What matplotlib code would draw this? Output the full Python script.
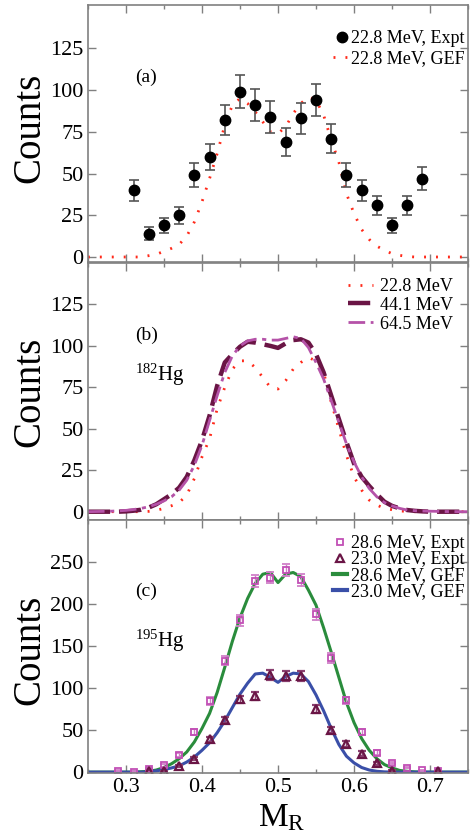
import numpy as np
import matplotlib
matplotlib.use("Agg")
import matplotlib.pyplot as plt
from matplotlib.lines import Line2D

plt.rcParams['font.family'] = ['Liberation Serif', 'DejaVu Serif']
plt.rcParams['mathtext.fontset'] = 'custom'
plt.rcParams['mathtext.rm'] = 'Liberation Serif'
plt.rcParams['mathtext.it'] = 'Liberation Serif:italic'

# ---------------- data ----------------
# Panel (a): experiment 22.8 MeV
mr_a = [0.31, 0.33, 0.35, 0.37, 0.39, 0.41, 0.43, 0.45, 0.47, 0.49,
        0.51, 0.53, 0.55, 0.57, 0.59, 0.61, 0.63, 0.65, 0.67, 0.69]
counts_a = [40, 14, 19, 25, 49, 60, 82, 99, 91, 84,
            69, 83, 94, 71, 49, 40, 31, 19, 31, 47]
err_a = [6.3, 3.9, 4.5, 5.1, 7.3, 7.7, 9.0, 10.0, 9.5, 9.5,
         8.4, 9.0, 9.8, 8.5, 7.2, 6.3, 5.7, 4.5, 5.7, 7.0]

# GEF curves on a 0.01 grid
mr_gef = [round(0.25 + 0.01 * i, 2) for i in range(51)]
gef_a_228 = [0, 0, 0, 0, 0, 0, 0, 0, 0.8, 1.6,
             3.4, 5.2, 7.5, 12.5, 21, 33, 47, 62, 79, 91,
             95, 92, 87, 81, 75, 74, 78, 86, 92, 96,
             94, 85, 70, 57, 38, 26, 16.5, 10.5, 6.5, 4,
             2, 1, 0.3, 0, 0, 0, 0, 0, 0, 0, 0]

# Panel (b): 182Hg GEF
gef_b_228 = [0, 0, 0, 0, 0, 0, 0, 0, 0.2, 0.8,
             2, 3.6, 5.5, 10, 20, 33, 44, 62, 75, 86,
             91, 91, 87, 81, 75, 74, 79, 86, 90, 93,
             91, 84, 66, 50, 34, 21, 13, 7, 4, 2,
             1.2, 0.5, 0.1, 0, 0, 0, 0, 0, 0, 0, 0]
gef_b_441 = [0, 0, 0, 0, 0, 0.2, 0.6, 1.2, 2.5, 4.5,
             7.5, 10.5, 14.5, 21, 31, 43, 58, 76, 90, 95,
             99.5, 102.5, 102, 101, 100, 98.8, 101.5, 103.5, 104, 102,
             95, 84, 70, 56, 42, 29, 21, 15.5, 10.5, 6,
             3.5, 2, 1, 0.5, 0.2, 0, 0, 0, 0, 0, 0]
gef_b_645 = [0, 0.1, 0.2, 0.3, 0.5, 0.8, 1.3, 2, 3, 4.5,
             6.5, 9, 13, 19, 28, 40, 55, 70, 84, 94,
             100, 103, 104, 104, 103.5, 103.5, 104.5, 105.5, 104.5, 99,
             90, 80, 67, 54, 41, 30, 21, 14, 9, 5.5,
             3.5, 2, 1, 0.6, 0.4, 0.3, 0.2, 0.1, 0.1, 0, 0]

# Panel (c): 195Hg
mr_c28 = [0.29, 0.31, 0.33, 0.35, 0.37, 0.39, 0.41, 0.43, 0.45, 0.47, 0.49,
          0.51, 0.53, 0.55, 0.57, 0.59, 0.61, 0.63, 0.65, 0.67, 0.69, 0.71]
counts_c28 = [1.5, 0.5, 4, 8, 20.6, 48, 84.6, 133, 181, 227.5, 232,
              241, 229, 188, 136, 85.4, 48.3, 23.3, 10.7, 5.5, 2, 0.8]
err_c28 = [0.5, 0.5, 1, 1.5, 2.5, 3.5, 4.5, 5.5, 6.5, 7, 7,
           7, 7, 6.5, 5.5, 4.5, 3.5, 2.5, 1.5, 1, 0.5, 0.5]
mr_c23 = [0.33, 0.35, 0.37, 0.39, 0.41, 0.43, 0.45, 0.47, 0.49,
          0.51, 0.53, 0.55, 0.57, 0.59, 0.61, 0.63, 0.65, 0.71]
counts_c23 = [1, 0.8, 7.5, 16.2, 39, 61.7, 86.6, 90.6, 115.5,
              114.3, 114.7, 75.5, 50.2, 33.2, 22.2, 10.3, 1.6, 0.8]
err_c23 = [0.5, 0.5, 1, 1.5, 2.5, 3.5, 4.5, 5, 6,
           6, 6, 5, 4, 3.5, 2.5, 2, 1, 0.5]
gef_c_286 = [0, 0, 0, 0, 0, 0, 0, 0.5, 1, 2.5,
             5.5, 10, 16, 24, 36, 52, 70, 95, 125, 156,
             184, 207, 225, 236, 238, 226, 236, 238, 233, 217,
             199, 172, 143, 113, 83, 59, 40, 26, 16, 9,
             5, 2, 1, 0.3, 0, 0, 0, 0, 0, 0, 0]
gef_c_230 = [0, 0, 0, 0, 0, 0, 0, 0, 0.5, 1.5,
             3, 5, 7.5, 12, 18, 26, 35, 47, 61, 77,
             93, 106, 117, 118, 113, 107, 114, 118, 117, 108,
             92, 73, 52, 33, 19, 11, 5.5, 2.5, 1, 0.3,
             0, 0, 0, 0, 0, 0, 0, 0, 0, 0, 0]

yticks_ab = [0, 25, 50, 75, 100, 125]
yticks_c = [0, 50, 100, 150, 200, 250]
xticks = [0.3, 0.4, 0.5, 0.6, 0.7]

# ---------------- style ----------------
RED = '#ff2a1a'
DARK = '#6a1545'
ORCHID = '#b552a8'
SQ = '#c24fb5'
TRI = '#6a1545'
GREEN = '#2a8c3c'
BLUE = '#3a4fa8'
SPINE = '#808080'
DOT = (0, (0.7, 3.6))

fig = plt.figure(figsize=(4.70, 8.36), dpi=100)
ax_a = fig.add_axes([0.187, 0.6866, 0.809, 0.3074])
ax_b = fig.add_axes([0.187, 0.378, 0.809, 0.3074])
ax_c = fig.add_axes([0.187, 0.0754, 0.809, 0.302])


def style(ax, yticks, labels_x):
    ax.set_xlim(0.25, 0.75)
    ax.set_xticks(xticks)
    ax.set_xticks([0.25, 0.35, 0.45, 0.55, 0.65, 0.75], minor=True)
    ax.set_yticks(yticks)
    ax.tick_params(axis='both', which='both', direction='in', top=True, right=True,
                   color=SPINE, labelsize=16, width=1)
    ax.tick_params(axis='both', which='major', length=6)
    ax.tick_params(axis='both', which='minor', length=3)
    ax.tick_params(axis='y', pad=3)
    if not labels_x:
        ax.tick_params(axis='x', labelbottom=False)
    else:
        ax.set_xticklabels(['0.3', '0.4', '0.5', '0.6', '0.7'])
    for s in ax.spines.values():
        s.set_color(SPINE)
        s.set_linewidth(1.2)


# Panel (a)
ax_a.plot(mr_gef, gef_a_228, linestyle=DOT, color=RED, lw=2.0)
ax_a.errorbar(mr_a, counts_a, yerr=err_a, fmt='o', color='black', ms=7.5,
              ecolor='#555555', elinewidth=1.2, capsize=3.5, capthick=1.2)
ax_a.set_ylim(-3, 151)
style(ax_a, yticks_ab, False)
h_a = [Line2D([], [], marker='o', color='black', ls='none', ms=7.5),
       Line2D([], [], linestyle=DOT, color=RED, lw=2.0)]
ax_a.legend(h_a, ['22.8 MeV, Expt', '22.8 MeV, GEF'], loc='upper right',
            bbox_to_anchor=(1.01, 0.93), frameon=False, fontsize=13,
            handlelength=1.0, handletextpad=0.0, labelspacing=0.15,
            borderaxespad=0.0)
ax_a.text(0.125, 0.70, '(a)', transform=ax_a.transAxes, fontsize=14)

# Panel (b)
ax_b.plot(mr_gef, gef_b_228, linestyle=DOT, color=RED, lw=2.0,
          label='22.8 MeV')
ax_b.plot(mr_gef, gef_b_441, linestyle=(0, (5, 2)), color=DARK, lw=3.2,
          label='44.1 MeV')
ax_b.plot(mr_gef, gef_b_645, linestyle=(0, (6, 2, 1.5, 2)), color=ORCHID, lw=2.0,
          label='64.5 MeV')
ax_b.set_ylim(-5, 150)
style(ax_b, yticks_ab, False)
ax_b.legend(loc='upper right', bbox_to_anchor=(0.98, 0.97), frameon=False,
            fontsize=13, handlelength=1.4, handletextpad=0.4, labelspacing=0.1,
            borderaxespad=0.0)
ax_b.text(0.125, 0.70, '(b)', transform=ax_b.transAxes, fontsize=14)
ax_b.text(0.125, 0.54, r'$^{182}$Hg', transform=ax_b.transAxes, fontsize=15)

# Panel (c)
ax_c.plot(mr_gef, gef_c_286, color=GREEN, lw=2.2)
ax_c.plot(mr_gef, gef_c_230, color=BLUE, lw=2.2)
ax_c.errorbar(mr_c28, counts_c28, yerr=err_c28, fmt='s', mfc='none', mec=SQ,
              mew=1.3, ms=5, ecolor='#d080c8', elinewidth=1.0, capsize=3, capthick=1.0)
ax_c.errorbar(mr_c23, counts_c23, yerr=err_c23, fmt='^', mfc='none', mec=TRI,
              mew=1.6, ms=5.5, ecolor='#8a4070', elinewidth=1.0, capsize=3, capthick=1.0)
ax_c.set_ylim(-1, 300)
style(ax_c, yticks_c, True)
h_c = [Line2D([], [], marker='s', mfc='none', mec=SQ, mew=1.3, ms=5, ls='none'),
       Line2D([], [], marker='^', mfc='none', mec=TRI, mew=1.6, ms=5.5, ls='none'),
       Line2D([], [], color=GREEN, lw=3),
       Line2D([], [], color=BLUE, lw=3)]
ax_c.legend(h_c, ['28.6 MeV, Expt', '23.0 MeV, Expt', '28.6 MeV, GEF', '23.0 MeV, GEF'],
            loc='upper right', bbox_to_anchor=(1.01, 0.97), frameon=False,
            fontsize=13, handlelength=0.8, handletextpad=0.2, labelspacing=-0.05,
            borderaxespad=0.0)
ax_c.text(0.125, 0.70, '(c)', transform=ax_c.transAxes, fontsize=14)
ax_c.text(0.125, 0.50, r'$^{195}$Hg', transform=ax_c.transAxes, fontsize=15)

# axis labels
for y in [128 / 836, 392 / 836, 650 / 836]:
    fig.text(0.064, 1 - y, 'Counts', rotation=90, ha='center', va='center', fontsize=28)
fig.text(0.6, 0.022, r'M$_\mathrm{R}$', ha='center', va='center', fontsize=24)

fig.savefig('out.png', dpi=100)
